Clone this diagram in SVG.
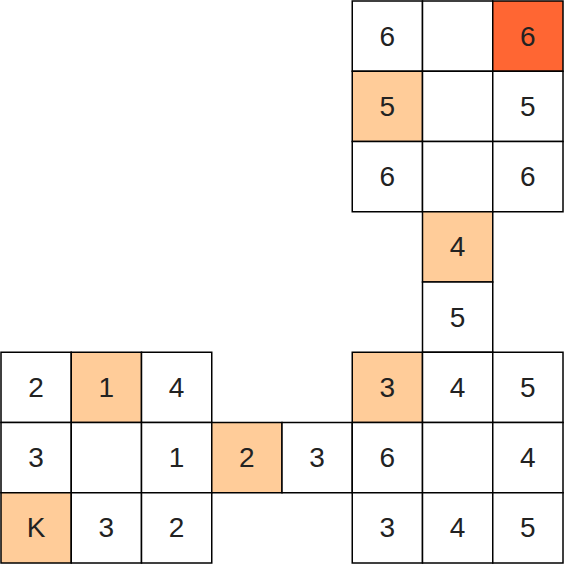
<svg xmlns="http://www.w3.org/2000/svg" width="564" height="564" viewBox="0 0 564 564">
<style>
.c{fill:#fff;stroke:#000;stroke-width:1.5}
.l{fill:#FFCC99}
.d{fill:#FF6633}
text{font-family:"Liberation Sans",Arial,sans-serif;font-size:28px;fill:#222;text-anchor:middle;dominant-baseline:central}
</style>
<rect width="564" height="564" fill="#fff"/>
<g id="cells">
<g id="r0c5"><rect class="c" x="352.25" y="1" width="70.25" height="70.25"/><text x="387.4" y="36.1">6</text></g>
<g id="r0c6"><rect class="c" x="422.5" y="1" width="70.25" height="70.25"/></g>
<g id="r0c7"><rect class="c d" x="492.75" y="1" width="70.25" height="70.25"/><text x="527.9" y="36.1">6</text></g>
<g id="r1c5"><rect class="c l" x="352.25" y="71.25" width="70.25" height="70.25"/><text x="387.4" y="106.4">5</text></g>
<g id="r1c6"><rect class="c" x="422.5" y="71.25" width="70.25" height="70.25"/></g>
<g id="r1c7"><rect class="c" x="492.75" y="71.25" width="70.25" height="70.25"/><text x="527.9" y="106.4">5</text></g>
<g id="r2c5"><rect class="c" x="352.25" y="141.5" width="70.25" height="70.25"/><text x="387.4" y="176.6">6</text></g>
<g id="r2c6"><rect class="c" x="422.5" y="141.5" width="70.25" height="70.25"/></g>
<g id="r2c7"><rect class="c" x="492.75" y="141.5" width="70.25" height="70.25"/><text x="527.9" y="176.6">6</text></g>
<g id="r3c6"><rect class="c l" x="422.5" y="211.75" width="70.25" height="70.25"/><text x="457.6" y="246.9">4</text></g>
<g id="r4c6"><rect class="c" x="422.5" y="282" width="70.25" height="70.25"/><text x="457.6" y="317.1">5</text></g>
<g id="r5c0"><rect class="c" x="1" y="352.25" width="70.25" height="70.25"/><text x="36.1" y="387.4">2</text></g>
<g id="r5c1"><rect class="c l" x="71.25" y="352.25" width="70.25" height="70.25"/><text x="106.4" y="387.4">1</text></g>
<g id="r5c2"><rect class="c" x="141.5" y="352.25" width="70.25" height="70.25"/><text x="176.6" y="387.4">4</text></g>
<g id="r5c5"><rect class="c l" x="352.25" y="352.25" width="70.25" height="70.25"/><text x="387.4" y="387.4">3</text></g>
<g id="r5c6"><rect class="c" x="422.5" y="352.25" width="70.25" height="70.25"/><text x="457.6" y="387.4">4</text></g>
<g id="r5c7"><rect class="c" x="492.75" y="352.25" width="70.25" height="70.25"/><text x="527.9" y="387.4">5</text></g>
<g id="r6c0"><rect class="c" x="1" y="422.5" width="70.25" height="70.25"/><text x="36.1" y="457.6">3</text></g>
<g id="r6c1"><rect class="c" x="71.25" y="422.5" width="70.25" height="70.25"/></g>
<g id="r6c2"><rect class="c" x="141.5" y="422.5" width="70.25" height="70.25"/><text x="176.6" y="457.6">1</text></g>
<g id="r6c3"><rect class="c l" x="211.75" y="422.5" width="70.25" height="70.25"/><text x="246.9" y="457.6">2</text></g>
<g id="r6c4"><rect class="c" x="282" y="422.5" width="70.25" height="70.25"/><text x="317.1" y="457.6">3</text></g>
<g id="r6c5"><rect class="c" x="352.25" y="422.5" width="70.25" height="70.25"/><text x="387.4" y="457.6">6</text></g>
<g id="r6c6"><rect class="c" x="422.5" y="422.5" width="70.25" height="70.25"/></g>
<g id="r6c7"><rect class="c" x="492.75" y="422.5" width="70.25" height="70.25"/><text x="527.9" y="457.6">4</text></g>
<g id="r7c0"><rect class="c l" x="1" y="492.75" width="70.25" height="70.25"/><text x="36.1" y="527.9">K</text></g>
<g id="r7c1"><rect class="c" x="71.25" y="492.75" width="70.25" height="70.25"/><text x="106.4" y="527.9">3</text></g>
<g id="r7c2"><rect class="c" x="141.5" y="492.75" width="70.25" height="70.25"/><text x="176.6" y="527.9">2</text></g>
<g id="r7c5"><rect class="c" x="352.25" y="492.75" width="70.25" height="70.25"/><text x="387.4" y="527.9">3</text></g>
<g id="r7c6"><rect class="c" x="422.5" y="492.75" width="70.25" height="70.25"/><text x="457.6" y="527.9">4</text></g>
<g id="r7c7"><rect class="c" x="492.75" y="492.75" width="70.25" height="70.25"/><text x="527.9" y="527.9">5</text></g>
</g>
<g id="connectors"/>
</svg>
